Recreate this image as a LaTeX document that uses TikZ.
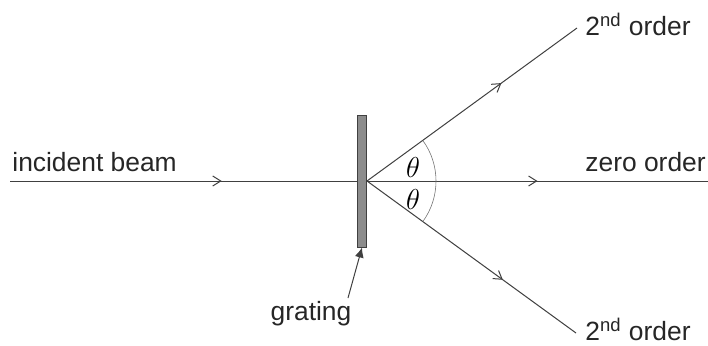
\documentclass[tikz,border=0pt]{standalone}
\usepackage{fontspec}
\setmainfont{Liberation Sans}
\usetikzlibrary{arrows.meta,decorations.markings}

\begin{document}
\begin{tikzpicture}[
  x=0.5pt,y=0.5pt,
  font=\fontsize{13.2}{15}\selectfont,
  ray/.style={draw=black!75,line width=0.5pt},
  midarrow/.style={ray,postaction={decorate},
    decoration={markings,mark=at position #1 with
      {\arrow{Straight Barb[length=4pt,width=5pt]}}}},
  label/.style={inner sep=0pt,anchor=base west,text=black!85},
  angle/.style={inner sep=0pt,font=\fontsize{15.5}{17}\selectfont},
  plate/.style={draw=black!75,fill=black!45,line width=0.5pt,
    minimum width=4.5pt,minimum height=66pt,inner sep=0pt}
]
\useasboundingbox (0,0) rectangle (708,345);
\node[plate] (grating) at (362,164) {};
\coordinate (src) at (10,164);
\coordinate (zend) at (708,164);
\coordinate (upend) at (577,317);
\coordinate (downend) at (576,12);
\coordinate (tail) at (348,47);
\node[label] (incident) at (12,174) {incident beam};
\node[label] (zero) at (585,174) {zero order};
\node[label] (secondup) at (585,310) {2\textsuperscript{nd} order};
\node[label] (seconddown) at (585,5) {2\textsuperscript{nd} order};
\node[label,anchor=base] (gratinglabel) at (311,25) {grating};
\node[angle] (thetaup) at (413,178) {$\theta$};
\node[angle] (thetadown) at (413,146) {$\theta$};
\draw[midarrow=0.61] (src) -- (grating.west);
\draw[midarrow=0.5] (grating.east) -- (zend);
\draw[midarrow=0.64] (grating.east) -- (upend);
\draw[midarrow=0.65] (grating.east) -- (downend);
\draw[draw=black!55,line width=0.3pt] (grating.east) ++(-36:69) arc (-36:36:69);
\draw[ray,-{Latex[length=5pt,width=4.5pt]}] (tail) -- (grating.south);
\end{tikzpicture}
\end{document}
